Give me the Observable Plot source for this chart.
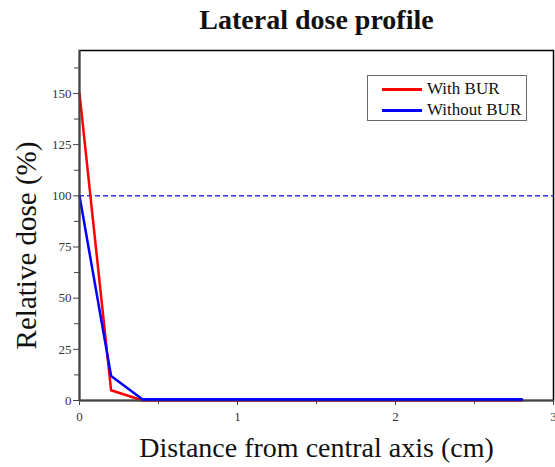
<!DOCTYPE html>
<html>
<head>
<meta charset="utf-8">
<script src="https://cdn.jsdelivr.net/npm/d3@7"></script>
<script src="https://cdn.jsdelivr.net/npm/@observablehq/plot@0.6"></script>
<style>
  html, body { margin: 0; padding: 0; background: white; }
  #wrap { position: relative; width: 555px; height: 467px; overflow: hidden; }
  #legend { position: absolute; left: 367px; top: 75px; width: 160px; height: 46px;
    border: 1px solid #666; background: white; font-family: "Liberation Serif", serif; font-size: 17px; color: #111; box-sizing: border-box; }
  .row { position: absolute; left: 0; display: flex; align-items: center; }
  .sw { width: 40px; height: 3px; margin-left: 14px; margin-right: 5px; }
</style>
</head>
<body>
<div id="wrap"></div>
<script>
const distance = [0, 0.2, 0.4, 0.6, 0.8, 1.0, 1.2, 1.4, 1.6, 1.8, 2.0, 2.2, 2.4, 2.6, 2.8];
const withBUR = [150, 5, 0, 0, 0, 0, 0, 0, 0, 0, 0, 0, 0, 0, 0];
const withoutBUR = [100, 12, 0.5, 0.5, 0.5, 0.5, 0.5, 0.5, 0.5, 0.5, 0.5, 0.5, 0.5, 0.5, 0.5];
const seriesNames = ["With BUR", "Without BUR"];
const seriesColors = ["#ff0000", "#0000ff"];
const referenceLevel = [100];
const xMajorTicks = [0, 1, 2, 3];
const xMinorTicks = [0.5, 1.5, 2.5];
const yMajorTicks = [0, 25, 50, 75, 100, 125, 150];
const yMinorTicks = [12.5, 37.5, 62.5, 87.5, 112.5, 137.5, 162.5];

const redData = distance.map((d, i) => ({x: d, y: withBUR[i]}));
const blueData = distance.map((d, i) => ({x: d, y: withoutBUR[i]}));

const chart = Plot.plot({
  width: 555, height: 467,
  marginLeft: 79, marginRight: 2, marginTop: 50, marginBottom: 67,
  x: {domain: [0, 3]},
  y: {domain: [0, 171]},
  style: {fontFamily: "Liberation Serif, serif", background: "white", overflow: "visible"},
  marks: [
    Plot.frame({stroke: "black", strokeWidth: 1.5}),
    Plot.ruleY(referenceLevel, {stroke: "#3030ff", strokeWidth: 1.5, strokeDasharray: "5,3"}),
    Plot.line(redData, {x: "x", y: "y", stroke: seriesColors[0], strokeWidth: 2.5}),
    Plot.line(blueData, {x: "x", y: "y", stroke: seriesColors[1], strokeWidth: 2.5}),
    Plot.axisX({ticks: xMajorTicks, tickSize: 5, tickPadding: 6, fontSize: 13, fill: "#333", stroke: "#444", label: null, tickFormat: d3.format("d")}),
    Plot.axisX({ticks: xMinorTicks, tickSize: 4, fill: "none", stroke: "#444", label: null}),
    Plot.axisY({ticks: yMajorTicks, tickSize: 6, tickPadding: 2, fontSize: 13, fill: "#333", stroke: "#444", label: null, tickFormat: d3.format("d")}),
    Plot.axisY({ticks: yMinorTicks, tickSize: 5, fill: "none", stroke: "#444", label: null}),
    Plot.ruleX([0], {stroke: "#444", strokeWidth: 2}),
    Plot.ruleY([0], {stroke: "#444", strokeWidth: 2}),
    Plot.line(blueData.slice(2), {x: "x", y: "y", stroke: seriesColors[1], strokeWidth: 2.5}),
    Plot.text(["Lateral dose profile"], {frameAnchor: "top", lineAnchor: "middle", dy: -30, fontSize: 28, fontWeight: "bold", fill: "#111"}),
    Plot.text(["Relative dose (%)"], {frameAnchor: "left", rotate: -90, textAnchor: "middle", lineAnchor: "middle", dx: -53, dy: 20, fontSize: 29, fill: "#111"}),
    Plot.text(["Distance from central axis (cm)"], {frameAnchor: "bottom", lineAnchor: "middle", dy: 48, fontSize: 28, fill: "#111"})
  ]
});
const wrap = document.getElementById("wrap");
wrap.appendChild(chart);

const legend = document.createElement("div");
legend.id = "legend";
seriesNames.forEach((name, i) => {
  const row = document.createElement("div");
  row.className = "row";
  row.style.top = (i === 0 ? 3 : 24) + "px";
  const sw = document.createElement("div");
  sw.className = "sw";
  sw.style.background = seriesColors[i];
  const label = document.createElement("span");
  label.textContent = name;
  row.appendChild(sw);
  row.appendChild(label);
  legend.appendChild(row);
});
wrap.appendChild(legend);
</script>
</body>
</html>
